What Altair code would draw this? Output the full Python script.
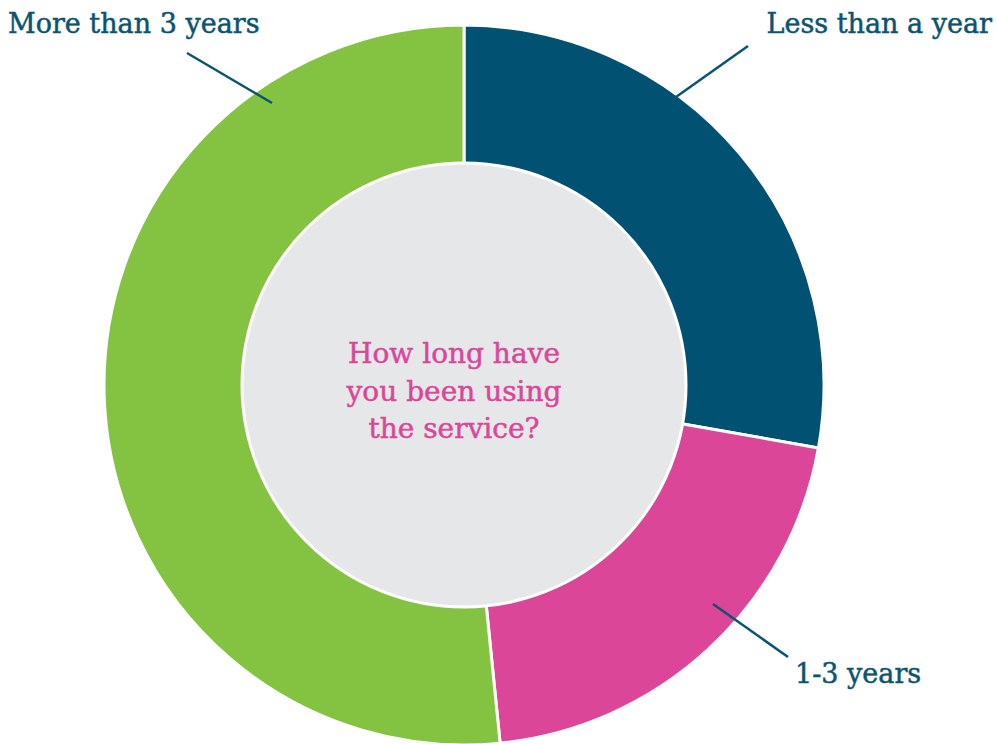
import altair as alt
import pandas as pd

categories = ["Less than a year", "1-3 years", "More than 3 years"]
values = [27.8, 20.6, 51.6]
colors = ["#005172", "#DB4699", "#84C341"]
center_lines = ["How long have", "you been using", "the service?"]

df = pd.DataFrame({"category": categories, "value": values, "order": [0, 1, 2]})

CX, CY = 464, 385
FONT = "DejaVu Serif"
TEXT_COLOR = "#0B5470"
PINK = "#DB4699"

base = alt.Chart(df)

ring = base.mark_arc(outerRadius=360, innerRadius=221, stroke="white", strokeWidth=3).encode(
    theta=alt.Theta("value:Q", stack=True),
    order=alt.Order("order:Q"),
    color=alt.Color("category:N", scale=alt.Scale(domain=categories, range=colors), legend=None),
    x=alt.value(CX),
    y=alt.value(CY),
)

inner = alt.Chart(pd.DataFrame({"v": [1]})).mark_arc(
    outerRadius=222, fill="#E6E7E8", stroke="white", strokeWidth=3, theta=0, theta2=6.2832
).encode(x=alt.value(CX), y=alt.value(CY))

center_df = pd.DataFrame({"line": center_lines, "i": [0, 1, 2]})

def center_line(i, y):
    return alt.Chart(center_df).transform_filter(alt.datum.i == i).mark_text(
        font=FONT, fontSize=28, color=PINK, stroke=PINK, strokeWidth=0.5,
        align="center", baseline="alphabetic"
    ).encode(text="line:N", x=alt.value(454), y=alt.value(y))

lbl_df = pd.DataFrame({"category": categories})

def label(cat, x, y, align):
    return alt.Chart(lbl_df).transform_filter(alt.datum.category == cat).mark_text(
        font=FONT, fontSize=27, color=TEXT_COLOR, stroke=TEXT_COLOR, strokeWidth=0.5,
        align=align, baseline="alphabetic"
    ).encode(text="category:N", x=alt.value(x), y=alt.value(y))

def leader(cat, x1, y1, x2, y2):
    return alt.Chart(lbl_df).transform_filter(alt.datum.category == cat).mark_rule(
        color=TEXT_COLOR, strokeWidth=2.5
    ).encode(x=alt.value(x1), y=alt.value(y1), x2=alt.value(x2), y2=alt.value(y2))

chart = alt.layer(
    ring,
    inner,
    center_line(0, 363),
    center_line(1, 401),
    center_line(2, 438),
    label("More than 3 years", 8, 33, "left"),
    label("Less than a year", 992, 33, "right"),
    label("1-3 years", 795, 683, "left"),
    leader("More than 3 years", 187, 53, 272, 103),
    leader("Less than a year", 748, 46, 676, 97),
    leader("1-3 years", 713, 604, 788, 657),
).properties(
    width=997, height=744, autosize=alt.AutoSizeParams(type="none"), padding=0
).configure_view(stroke=None)

chart.save("out.html", embed_options={"renderer": "svg", "actions": False})
